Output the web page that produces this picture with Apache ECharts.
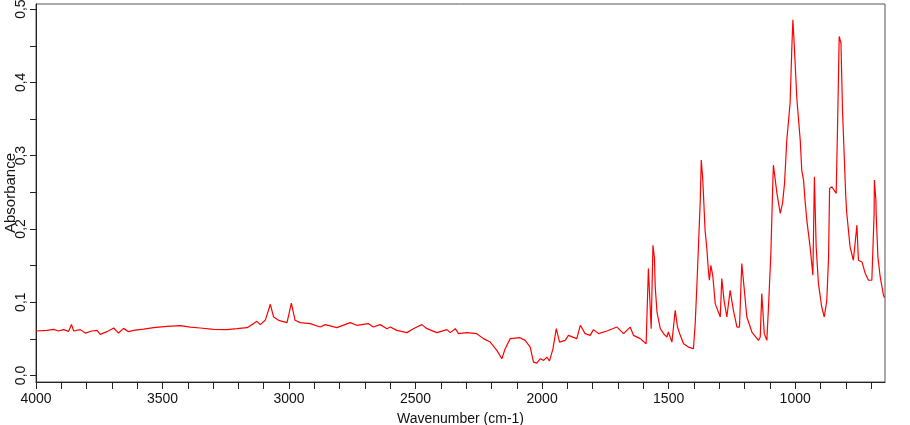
<!DOCTYPE html>
<html>
<head>
<meta charset="utf-8">
<script src="https://cdn.jsdelivr.net/npm/echarts@6/dist/echarts.min.js"></script>
<style>
  html, body { margin: 0; padding: 0; background: #fff; }
  #chart { width: 910px; height: 425px; }
</style>
</head>
<body>
<div id="chart"></div>
<script>
// spectrum: wavenumber (cm-1) and absorbance
let wavenumbers = [
  4000, 3957, 3930, 3911, 3891, 3871, 3860, 3851, 3825, 3805,
  3779, 3759, 3746, 3720, 3693, 3674, 3654, 3634, 3614, 3575,
  3535, 3482, 3430, 3390, 3351, 3298, 3245, 3206, 3166, 3140,
  3127, 3114, 3094, 3074, 3061, 3041, 3008, 2991, 2976, 2956,
  2916, 2877, 2857, 2811, 2758, 2732, 2687, 2667, 2640, 2613,
  2600, 2574, 2534, 2509, 2475, 2455, 2416, 2376, 2363, 2343,
  2330, 2297, 2258, 2232, 2205, 2179, 2159, 2146, 2126, 2087,
  2067, 2047, 2034, 2021, 2007, 1994, 1981, 1971, 1957, 1944,
  1931, 1909, 1896, 1863, 1849, 1830, 1810, 1797, 1777, 1744,
  1704, 1678, 1652, 1639, 1612, 1589, 1580, 1573, 1569, 1562,
  1556, 1553, 1546, 1533, 1520, 1507, 1501, 1487, 1481, 1474,
  1465, 1454, 1441, 1422, 1402, 1395, 1388, 1382, 1375, 1371,
  1365, 1356, 1349, 1343, 1339, 1333, 1325, 1316, 1296, 1290,
  1281, 1270, 1257, 1244, 1230, 1220, 1211, 1202, 1191, 1171,
  1145, 1138, 1132, 1122, 1112, 1106, 1096, 1088, 1086, 1079,
  1072, 1059, 1050, 1042, 1033, 1020, 1013, 1009, 1004, 993,
  980, 974, 967, 961, 954, 941, 930, 924, 917, 908,
  895, 885, 875, 868, 864, 855, 838, 833, 826, 819,
  813, 806, 800, 796, 783, 770, 756, 750, 736, 723,
  710, 697, 688, 687, 681, 680, 673, 664, 651, 647
];
let absorbance = [
  0.0606, 0.0615, 0.0629, 0.0606, 0.0625, 0.0601, 0.0697, 0.0606, 0.0625, 0.0578,
  0.0606, 0.0615, 0.0560, 0.0597, 0.0647, 0.0578, 0.0642, 0.0597, 0.0615, 0.0633,
  0.0652, 0.0670, 0.0679, 0.0660, 0.0647, 0.0629, 0.0625, 0.0638, 0.0652, 0.0707,
  0.0738, 0.0693, 0.0752, 0.0971, 0.0797, 0.0752, 0.0720, 0.0988, 0.0752, 0.0720,
  0.0707, 0.0660, 0.0693, 0.0652, 0.0720, 0.0684, 0.0707, 0.0660, 0.0693, 0.0638,
  0.0660, 0.0615, 0.0584, 0.0638, 0.0693, 0.0638, 0.0584, 0.0625, 0.0584, 0.0638,
  0.0570, 0.0584, 0.0570, 0.0502, 0.0455, 0.0342, 0.0228, 0.0365, 0.0502, 0.0515,
  0.0478, 0.0387, 0.0182, 0.0168, 0.0228, 0.0205, 0.0250, 0.0196, 0.0365, 0.0638,
  0.0455, 0.0478, 0.0547, 0.0502, 0.0684, 0.0570, 0.0547, 0.0625, 0.0570, 0.0606,
  0.0660, 0.0570, 0.0660, 0.0547, 0.0502, 0.0433, 0.1460, 0.1436, 0.0638, 0.1777,
  0.1596, 0.1207, 0.0865, 0.0638, 0.0570, 0.0524, 0.0592, 0.0455, 0.0433, 0.0889,
  0.0660, 0.0547, 0.0433, 0.0387, 0.0365, 0.0707, 0.1254, 0.1777, 0.2393, 0.2940,
  0.2666, 0.1983, 0.1732, 0.1436, 0.1299, 0.1504, 0.1344, 0.0980, 0.0797, 0.1322,
  0.1025, 0.0797, 0.1162, 0.0889, 0.0660, 0.0660, 0.1527, 0.1207, 0.0797, 0.0592,
  0.0478, 0.0524, 0.1117, 0.0570, 0.0478, 0.0889, 0.1664, 0.2666, 0.2870, 0.2848,
  0.2484, 0.2211, 0.2348, 0.2621, 0.3213, 0.3719, 0.4489, 0.4854, 0.4535, 0.3760,
  0.3213, 0.2803, 0.2666, 0.2393, 0.2119, 0.1754, 0.1367, 0.2711, 0.1754, 0.1254,
  0.0934, 0.0797, 0.1025, 0.1617, 0.2553, 0.2575, 0.2484, 0.3305, 0.4626, 0.4535,
  0.3623, 0.2985, 0.2438, 0.2211, 0.1754, 0.1572, 0.2051, 0.1572, 0.1549, 0.1390,
  0.1299, 0.1299, 0.2211, 0.2666, 0.2393, 0.2211, 0.1617, 0.1344, 0.1094, 0.1060
];

let xTicks = [4000, 3900, 3800, 3700, 3600, 3500, 3400, 3300, 3200, 3100, 3000,
  2900, 2800, 2700, 2600, 2500, 2400, 2300, 2200, 2100, 2000, 1900, 1800, 1700,
  1600, 1500, 1400, 1300, 1200, 1100, 1000, 900, 800, 700];
let xLabels = [4000, 3500, 3000, 2500, 2000, 1500, 1000];
let yTicks = [0, 0.05, 0.1, 0.15, 0.2, 0.25, 0.3, 0.35, 0.4, 0.45, 0.5];
let yLabels = [0, 0.1, 0.2, 0.3, 0.4, 0.5];

let points = [];
for (let i = 0; i < wavenumbers.length; i++) {
  points.push([wavenumbers[i], absorbance[i]]);
}

var myChart = echarts.init(document.getElementById("chart"));

var option = {
  animation: false,
  backgroundColor: "#fff",
  grid: {
    left: 36,
    right: 25,
    top: 4,
    bottom: 43,
    containLabel: false,
    outerBoundsMode: "none",
    show: true,
    borderColor: "#555",
    borderWidth: 1,
  },
  xAxis: {
    type: "value",
    inverse: true,
    min: 645,
    max: 4000,
    name: "Wavenumber (cm-1)",
    nameLocation: "middle",
    nameGap: 30,
    nameMoveOverlap: false,
    nameTextStyle: { fontFamily: "Liberation Sans", fontSize: 14, color: "#111" },
    axisLine: { onZero: false, lineStyle: { color: "#222", width: 1 } },
    axisTick: { show: true, length: 7, customValues: xTicks, lineStyle: { color: "#222" } },
    axisLabel: {
      customValues: xLabels,
      margin: 10,
      fontFamily: "Liberation Sans",
      fontSize: 14,
      color: "#111",
      formatter: function (v) {
        return String(v);
      },
    },
    splitLine: { show: false },
  },
  yAxis: {
    type: "value",
    min: -0.009,
    max: 0.507,
    name: "Absorbance",
    nameLocation: "middle",
    nameGap: 18,
    nameMoveOverlap: false,
    nameTextStyle: { fontFamily: "Liberation Sans", fontSize: 15, color: "#111" },
    axisLine: { show: true, onZero: false, lineStyle: { color: "#222", width: 1 } },
    axisTick: { show: true, length: 6, customValues: yTicks, lineStyle: { color: "#222" } },
    axisLabel: {
      customValues: yLabels,
      rotate: 90,
      margin: 8,
      fontFamily: "Liberation Sans",
      fontSize: 14,
      color: "#111",
      formatter: function (v) {
        return v.toFixed(1).replace(".", ",");
      },
    },
    splitLine: { show: false },
  },
  series: [
    {
      type: "line",
      data: points,
      symbol: "none",
      sampling: "none",
      clip: true,
      lineStyle: { color: "#ff0000", width: 1.2 },
    },
  ],
};

option && myChart.setOption(option);
</script>
</body>
</html>
